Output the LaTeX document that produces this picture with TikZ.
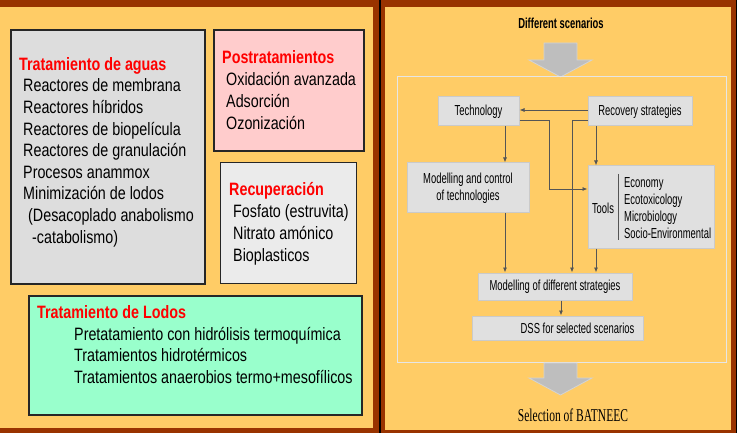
\documentclass[tikz,border=0pt]{standalone}
\usepackage{fontspec}
\setmainfont{Liberation Sans}
\newfontfamily\leftfont[FakeStretch=0.8]{Liberation Sans}
\newfontfamily\rightfont[FakeStretch=0.65]{Liberation Sans}
\newfontfamily\batfont[FakeStretch=0.64]{Liberation Serif}
\usetikzlibrary{arrows.meta}
\definecolor{framebrown}{HTML}{993300}
\definecolor{panelorange}{HTML}{FFCC66}
\definecolor{aguasgray}{HTML}{DDDDDD}
\definecolor{postpink}{HTML}{FFCCCC}
\definecolor{recgray}{HTML}{EBEBEB}
\definecolor{lodosgreen}{HTML}{99FFCC}
\definecolor{boxfill}{HTML}{E0E0E0}
\definecolor{boxedge}{HTML}{CACACA}
\definecolor{flowgray}{HTML}{555555}
\definecolor{arrowgray}{HTML}{BEBEBE}
\definecolor{arrowedge}{HTML}{D4D4D4}
\definecolor{outerline}{HTML}{E6E6E6}
\tikzset{
  lbox/.style={draw=black!85, line width=1.2pt, inner sep=0pt},
  ltitle/.style={anchor=base west, inner sep=0pt, text=red, font=\leftfont\fontsize{17.9}{21.6}\selectfont\bfseries},
  litem/.style={anchor=base west, inner sep=0pt, font=\leftfont\fontsize{17.9}{21.6}\selectfont},
  sbox/.style={draw=boxedge, fill=boxfill, line width=1pt, inner sep=0pt, align=center, font=\rightfont\fontsize{14.5}{17}\selectfont},
  stext/.style={inner sep=0pt, font=\rightfont\fontsize{14.5}{17}\selectfont},
  flow/.style={draw=flowgray, line width=0.8pt, -{Latex[length=5pt,width=4pt]}},
  bigarrow/.style={fill=arrowgray, draw=arrowedge, line width=0.8pt},
}
\begin{document}
\begin{tikzpicture}[x=1pt, y=-1pt]
        \useasboundingbox (0,0) rectangle (737,433);
        \fill [framebrown] (0,0) rectangle (737,433);
        \fill [panelorange] (0,7) rectangle (373,428);
        \fill [panelorange] (385,7) rectangle (731,430);
        \fill [black] (379,0) rectangle (381,433);
        \fill [black] (736,0) rectangle (737,433);

        \node [lbox, fill=aguasgray, minimum width=194pt, minimum height=254pt] (aguas) at (108,157) {};
        \node [lbox, fill=postpink, minimum width=150pt, minimum height=121pt] (post) at (289,90.5) {};
        \node [lbox, fill=recgray, minimum width=136pt, minimum height=121pt] (recup) at (288.7,222.8) {};
        \node [lbox, fill=lodosgreen, minimum width=333pt, minimum height=119pt] (lodos) at (195.5,355.5) {};

        \node [ltitle] (aguast) at (19,71) {Tratamiento de aguas};
        \foreach \dx/\t [count=\i] in {0/Reactores de membrana, 0/Reactores híbridos,
            0/Reactores de biopelícula, 0/Reactores de granulación, 0/Procesos anammox,
            0/Minimización de lodos, 5/(Desacoplado anabolismo, 9/-catabolismo)}
            \node [litem] (aguas\i) at (23+\dx,70.4+21.6*\i) {\t};

        \node [ltitle] (postt) at (222,64) {Postratamientos};
        \foreach \t [count=\i] in {Oxidación avanzada, Adsorción, Ozonización}
            \node [litem] (post\i) at (226,64.4+21.6*\i) {\t};

        \node [ltitle] (recupt) at (229,196) {Recuperación};
        \foreach \t [count=\i] in {Fosfato (estruvita), Nitrato amónico, Bioplasticos}
            \node [litem] (recup\i) at (233,196.4+21.6*\i) {\t};

        \node [ltitle] (lodost) at (37,318) {Tratamiento de Lodos};
        \foreach \t [count=\i] in {Pretatamiento con hidrólisis termoquímica,
            Tratamientos hidrotérmicos, Tratamientos anaerobios termo+mesofílicos}
            \node [litem] (lodos\i) at (74,318.4+21.6*\i) {\t};

        \node [stext, font=\rightfont\fontsize{14.5}{17}\selectfont\bfseries] (scen) at (561,23) {Different scenarios};
        \draw [bigarrow] (544,43) -- (577,43) -- (577,60) -- (592,60) -- (560.5,77) -- (529,60) -- (544,60) -- cycle;
        \draw [outerline, line width=1pt] (397,77) rectangle (726,362);
        \draw [bigarrow] (544,363) -- (577,363) -- (577,378) -- (592,378) -- (560.5,395) -- (529,378) -- (544,378) -- cycle;
        \node [inner sep=0pt, anchor=base, font=\batfont\fontsize{18}{20}\selectfont] (batneec) at (573,421) {Selection of BATNEEC};

        \node [sbox, minimum width=81pt, minimum height=29pt] (tech) at (478.5,111.5) {Technology};
        \node [sbox, minimum width=104pt, minimum height=29pt] (rec) at (640,111.5) {Recovery strategies};
        \node [sbox, minimum width=122pt, minimum height=50pt] (mc) at (468,188) {Modelling and control\\of technologies};
        \node [sbox, minimum width=126pt, minimum height=82pt] (tools) at (651,207) {};
        \node [sbox, minimum width=154pt, minimum height=27pt] (mds) at (555,286.5) {Modelling of different strategies};
        \node [sbox, minimum width=171pt, minimum height=24pt] (dss) at (557.5,328) {\hspace*{40pt}DSS for selected scenarios};

        \node [stext] (toolst) at (603,208) {Tools};
        \draw [flowgray, line width=0.8pt] (618,174) -- (618,240);
        \foreach \t [count=\i] in {Economy, Ecotoxicology, Microbiology, Socio-Environmental}
            \node [stext, anchor=base west] (tool\i) at (624,171.3+16.7*\i) {\t};

        \draw [flow] ([yshift=1.5pt]rec.west) -- ([yshift=1.5pt]tech.east);
        \draw [flow] ([yshift=-8.5pt]tech.east) -- ++(29.5,0) |- ([yshift=18pt]tools.west);
        \draw [flow] ([yshift=-8.5pt]rec.west) -| ([xshift=17pt]mds.north);
        \draw [flow] ([xshift=26.5pt]tech.south) -- ([xshift=37pt]mc.north);
        \draw [flow] ([xshift=-44pt]rec.south) -- ([xshift=-55pt]tools.north);
        \draw [flow] ([xshift=37pt]mc.south) -- ([xshift=-50pt]mds.north);
        \draw [flow] ([xshift=-55pt]tools.south) -- ([xshift=41pt]mds.north);
        \draw [flow] ([xshift=6pt]mds.south) -- ([xshift=3.5pt]dss.north);
    \end{tikzpicture}
\end{document}
